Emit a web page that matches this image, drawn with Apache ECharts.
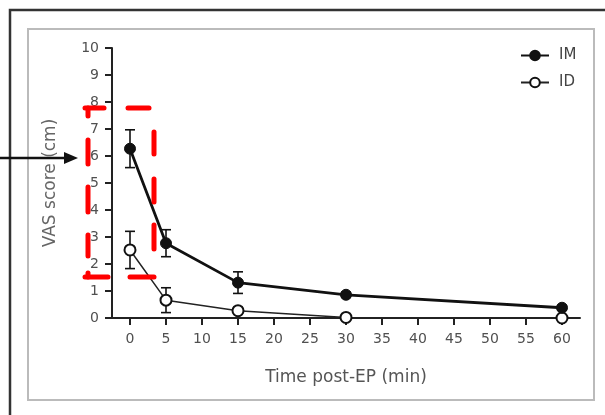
<!DOCTYPE html>
<html>
<head>
<meta charset="utf-8">
<script src="https://cdn.jsdelivr.net/npm/echarts@6/dist/echarts.min.js"></script>
<style>
html,body{margin:0;padding:0;background:#fff;}
#chart{width:605px;height:415px;}
</style>
</head>
<body>
<div id="chart"></div>
<script>
// Time points (min)
var timePoints = [0, 5, 15, 30, 60];
// IM group: mean VAS score and error (SEM)
var imMean = [6.27, 2.77, 1.31, 0.86, 0.38];
var imErr  = [0.70, 0.50, 0.40, 0.10, 0.08];
// ID group
var idMean = [2.52, 0.66, 0.27, 0.02, 0.0];
var idErr  = [0.69, 0.46, 0.12, 0.0, 0.0];
// Axis tick labels
var xTicks = [0, 5, 10, 15, 20, 25, 30, 35, 40, 45, 50, 55, 60];
var yTicks = [0, 1, 2, 3, 4, 5, 6, 7, 8, 9, 10];
var seriesNames = ['IM', 'ID'];

function pairs(xs, ys) { return xs.map(function (x, i) { return [x, ys[i]]; }); }
function errData(xs, m, e) { return xs.map(function (x, i) { return [x, m[i], e[i]]; }); }

function errRender(params, api) {
  var x = api.value(0), m = api.value(1), e = api.value(2);
  if (!(e > 0)) return null;
  var top = api.coord([x, m + e]);
  var bot = api.coord([x, m - e]);
  var w = 5;
  var st = { stroke: '#111', lineWidth: 1.6 };
  return {
    type: 'group',
    children: [
      { type: 'line', shape: { x1: top[0], y1: top[1], x2: bot[0], y2: bot[1] }, style: st },
      { type: 'line', shape: { x1: top[0] - w, y1: top[1], x2: top[0] + w, y2: top[1] }, style: st },
      { type: 'line', shape: { x1: bot[0] - w, y1: bot[1], x2: bot[0] + w, y2: bot[1] }, style: st }
    ]
  };
}

// red dashed annotation box segments (annotation only)
var redStyle = { stroke: '#ff0000', lineWidth: 5, lineCap: 'round' };
function hseg(y, x1, x2) { return { type: 'line', z: 100, shape: { x1: x1, y1: y, x2: x2, y2: y }, style: redStyle }; }
function vseg(x, y1, y2) { return { type: 'line', z: 100, shape: { x1: x, y1: y1, x2: x, y2: y2 }, style: redStyle }; }

var font = '"DejaVu Sans", Verdana, sans-serif';
var chart = echarts.init(document.getElementById('chart'), null, { renderer: 'canvas' });
chart.setOption({
  animation: false,
  backgroundColor: '#fff',
  grid: { left: 112, right: 25, top: 48, bottom: 97, containLabel: false },
  legend: {
    orient: 'vertical',
    left: 515, top: 43,
    itemWidth: 28, itemHeight: 12, itemGap: 12,
    textStyle: { fontFamily: font, fontSize: 15, color: '#444', padding: [0, 0, 0, 5] },
    data: seriesNames
  },
  xAxis: {
    type: 'value', min: -2.5, max: 62.5,
    name: 'Time post-EP (min)', nameLocation: 'middle', nameGap: 51,
    nameTextStyle: { fontFamily: font, fontSize: 17, color: '#555' },
    axisLine: { onZero: false, lineStyle: { color: '#222', width: 2 } },
    axisTick: { show: true, inside: false, length: 7, customValues: xTicks, lineStyle: { color: '#222', width: 2 } },
    axisLabel: { customValues: xTicks, margin: 14, fontFamily: font, fontSize: 14, color: '#505050' },
    splitLine: { show: false }
  },
  yAxis: {
    type: 'value', min: 0, max: 10, interval: 1,
    name: 'VAS score (cm)', nameLocation: 'middle', nameGap: 53, nameRotate: 90,
    nameTextStyle: { fontFamily: font, fontSize: 17, color: '#666' },
    axisLine: { show: true, onZero: false, lineStyle: { color: '#222', width: 2 } },
    axisTick: { show: true, inside: false, length: 7, customValues: yTicks, lineStyle: { color: '#222', width: 2 } },
    axisLabel: { customValues: yTicks, margin: 13, fontFamily: font, fontSize: 14, color: '#505050' },
    splitLine: { show: false }
  },
  series: [
    {
      type: 'custom', name: 'IM-err', renderItem: errRender, z: 1,
      data: errData(timePoints, imMean, imErr), silent: true
    },
    {
      type: 'custom', name: 'ID-err', renderItem: errRender, z: 1,
      data: errData(timePoints, idMean, idErr), silent: true
    },
    {
      name: 'IM', type: 'line', z: 4,
      data: pairs(timePoints, imMean),
      symbol: 'circle', symbolSize: 11,
      lineStyle: { color: '#111', width: 2.8 },
      itemStyle: { color: '#111', borderColor: '#111', borderWidth: 1 }
    },
    {
      name: 'ID', type: 'line', z: 3,
      data: pairs(timePoints, idMean),
      symbol: 'circle', symbolSize: 11,
      lineStyle: { color: '#222', width: 1.5 },
      itemStyle: { color: '#fff', borderColor: '#111', borderWidth: 2 }
    }
  ],
  graphic: [
    { type: 'rect', z: 100, shape: { x: 10, y: 10, width: 700, height: 500 },
      style: { fill: 'none', stroke: '#333', lineWidth: 2.5 } },
    { type: 'rect', z: 100, shape: { x: 28, y: 29, width: 566, height: 371 },
      style: { fill: 'none', stroke: '#bbb', lineWidth: 2 } },
    hseg(108, 85, 104), hseg(108, 128, 149),
    vseg(88, 108, 116), vseg(88, 140, 164), vseg(88, 187, 212), vseg(88, 235, 256), vseg(88, 273, 277),
    vseg(154, 132, 154), vseg(154, 179, 202), vseg(154, 225, 249),
    hseg(277, 85, 108), hseg(277, 130, 154),
    { type: 'line', z: 100, shape: { x1: 0, y1: 158, x2: 68, y2: 158 },
      style: { stroke: '#111', lineWidth: 2.5 } },
    { type: 'polygon', z: 100, shape: { points: [[64, 152], [78, 158], [64, 164]] },
      style: { fill: '#111' } }
  ]
});
</script>
</body>
</html>
